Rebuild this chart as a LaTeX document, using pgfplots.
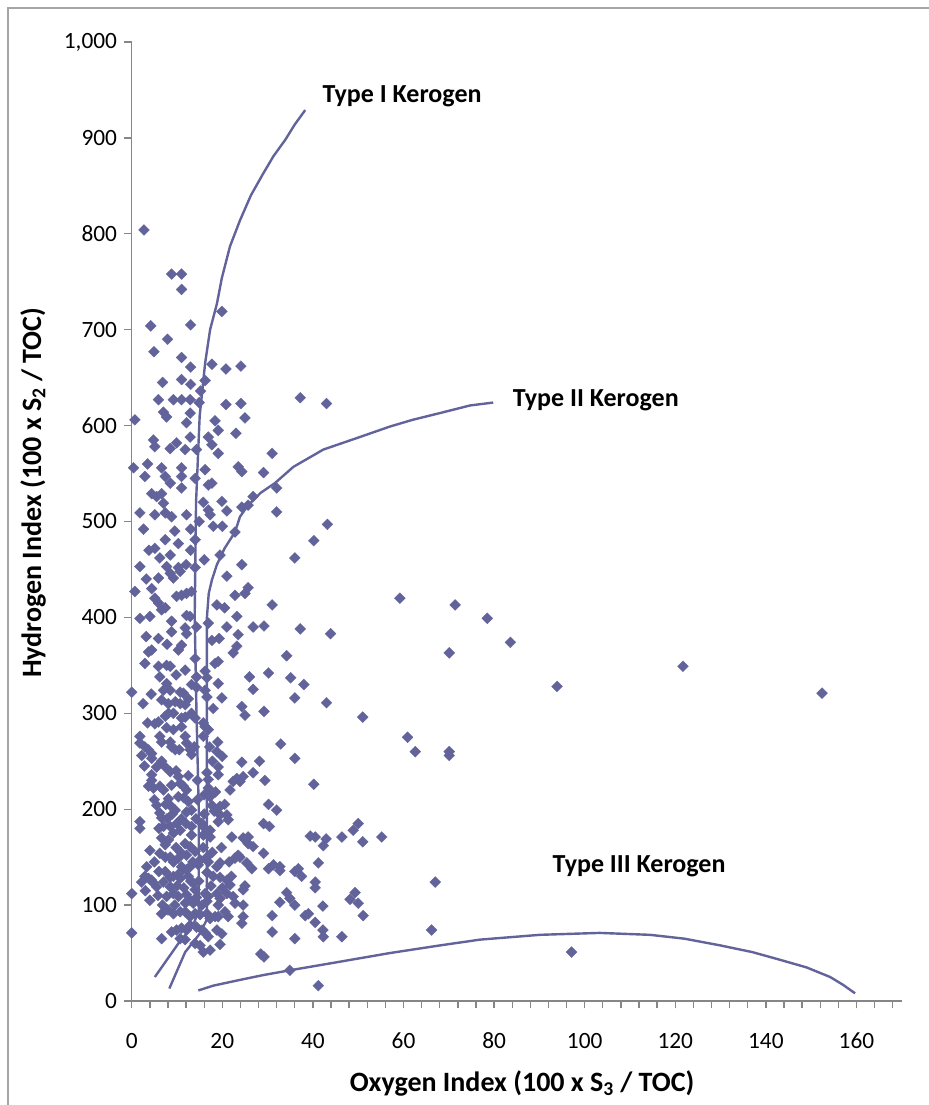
\documentclass[border=0pt]{standalone}
\usepackage{fontspec}
\setmainfont{Carlito}
\usepackage{pgfplots}
\pgfplotsset{compat=1.18}
\definecolor{pt}{RGB}{98,99,155}
\definecolor{ax}{RGB}{134,134,134}
\definecolor{fr}{RGB}{165,165,165}
\pgfplotstableread{
x y
2.7 804
8.8 758
11.0 758
11.0 742
4.2 704
13.0 705
7.9 690
19.9 719
4.9 677
11.0 671
13.0 661
17.7 664
20.8 659
24.1 662
6.8 645
11.0 648
13.0 643
16.2 647
15.2 636
5.9 627
9.2 627
11.0 627
12.9 627
14.9 624
20.8 622
24.1 623
25.0 608
7.0 614
7.7 609
12.9 613
12.1 603
0.7 606
18.4 605
19.1 595
23.0 592
4.8 585
5.1 578
8.5 576
9.9 582
12.9 588
11.8 575
14.3 575
16.9 588
17.7 580
19.1 571
0.4 556
2.9 547
6.6 556
7.4 547
11.0 556
11.0 547
16.2 554
23.5 557
24.3 552
37.2 629
43.0 623
31.0 571
29.1 551
26.8 526
32.0 535
24.3 515
32.0 510
43.2 497
40.2 480
36.0 462
24.3 455
25.7 431
25.0 425
59.2 420
31.0 413
26.8 390
29.2 391
37.2 388
43.9 383
34.2 360
26.0 338
30.2 342
35.1 337
26.8 325
38.0 330
36.0 316
43.0 311
24.3 307
25.0 298
29.2 302
51.0 296
60.9 275
62.6 260
32.9 268
36.0 253
24.3 249
28.2 250
26.8 238
24.6 234
23.9 229
29.4 230
40.2 226
30.2 205
32.0 199
29.1 185
30.4 182
39.4 172
40.5 171
42.9 169
42.3 162
46.4 171
50.0 185
48.9 178
51.0 166
55.2 171
67.0 124
24.6 170
25.7 171
26.8 161
23.9 150
29.1 154
25.4 144
26.5 138
30.2 138
31.3 142
32.7 140
32.7 136
36.0 135
36.8 138
37.5 130
40.5 124
40.5 118
41.2 144
25.0 120
24.6 116
34.2 113
34.9 107
36.0 100
32.7 103
49.3 113
48.2 106
50.0 102
42.2 99
38.3 89
39.0 91
40.5 82
31.0 89
51.1 89
24.6 100
24.6 88
24.3 81
31.0 72
36.0 65
42.2 74
42.3 67
46.4 67
66.2 74
28.5 49
29.2 46
34.9 32
41.2 16
71.4 413
70.1 363
70.1 260
70.1 256
78.5 399
83.6 374
93.9 328
121.7 349
152.4 321
97.1 51
17.7 540
16.9 538
4.4 529
5.5 526
6.6 529
7.0 519
11.0 535
19.9 521
25.7 517
1.8 509
5.1 507
7.4 509
8.8 505
12.1 507
16.9 512
17.3 507
21.0 511
14.9 500
18.0 495
22.8 489
2.6 492
5.1 472
7.4 481
8.5 465
6.2 462
10.3 477
14.0 481
13.0 470
1.8 453
7.7 453
8.5 446
9.2 441
10.7 448
10.3 452
14.0 452
21.0 443
5.9 441
4.4 430
0.7 427
9.9 422
11.0 423
12.1 425
13.2 427
5.1 420
5.9 415
6.6 408
7.4 410
22.8 423
18.8 413
1.8 399
4.0 401
12.1 402
12.9 401
16.9 394
8.8 396
23.2 401
11.8 389
12.1 383
23.5 382
21.0 390
11.0 371
10.3 366
5.9 378
4.4 366
3.7 364
17.7 376
23.2 370
22.4 363
14.0 357
2.9 352
5.9 349
7.7 350
8.5 349
18.4 352
19.1 354
16.2 344
16.6 337
6.2 338
14.3 338
0.0 322
7.7 331
7.0 324
8.5 324
10.7 322
11.4 321
19.1 331
14.3 327
16.2 324
16.6 317
19.9 316
6.6 314
8.1 310
9.6 312
10.7 310
11.8 309
7.4 297
8.1 300
9.2 300
5.1 289
5.9 291
11.0 295
11.8 296
13.2 300
14.0 295
15.8 290
16.2 286
16.9 283
7.7 285
9.2 283
11.0 286
1.8 276
6.2 276
1.8 269
2.9 265
3.7 262
4.4 258
6.6 270
8.8 265
9.6 262
11.8 276
12.1 269
12.9 262
13.2 257
18.8 260
15.8 276
2.2 256
4.4 253
5.5 244
6.6 250
7.4 244
8.5 239
4.4 236
3.7 224
4.8 222
4.4 230
7.0 220
6.2 224
10.3 234
10.7 227
11.4 224
12.1 220
8.8 225
16.6 238
16.9 231
16.9 222
19.1 244
19.1 236
22.4 229
23.2 232
21.7 220
8.1 211
8.5 204
9.6 199
10.3 213
12.5 208
13.2 199
12.1 197
5.5 204
6.2 196
6.6 191
17.3 213
17.7 204
19.5 203
19.5 194
21.0 194
21.3 189
1.8 187
1.8 180
7.0 182
8.5 182
9.9 185
10.7 178
9.2 175
13.2 182
13.2 173
15.5 185
16.2 180
15.8 173
17.3 178
17.3 171
19.1 187
22.1 171
25.7 164
6.6 170
8.1 168
7.4 163
4.0 157
11.8 164
12.9 161
8.5 150
9.2 145
10.3 149
7.4 150
6.2 154
12.1 152
14.0 156
15.1 147
14.7 142
16.6 150
16.9 145
19.5 144
18.8 140
22.8 149
23.5 152
21.7 121
2.9 130
3.7 128
4.4 126
4.8 123
5.5 119
2.2 124
7.4 135
7.0 124
8.5 129
9.2 130
10.7 134
10.7 128
11.0 140
12.1 137
12.9 140
12.5 130
13.6 123
14.0 116
16.6 134
18.0 130
19.5 129
21.0 126
0.0 112
4.0 105
8.5 119
9.2 112
10.3 109
7.7 109
12.1 111
12.9 105
13.6 102
14.3 108
11.8 102
16.2 112
16.9 109
16.6 104
15.5 100
18.8 112
19.5 107
19.1 100
21.0 112
22.4 109
22.8 102
6.6 91
9.2 91
10.7 93
11.8 93
12.9 88
14.0 91
15.1 90
16.6 91
17.3 86
18.4 88
19.1 88
20.6 93
21.3 88
0.0 71
6.6 65
8.8 72
9.9 74
11.0 76
12.1 74
12.9 79
14.3 77
15.5 74
16.2 71
16.9 67
10.7 65
11.8 64
18.8 74
19.9 70
19.5 59
14.0 60
15.1 58
15.8 51
17.3 53
3.3 140
5.0 145
6.0 135
9.8 160
10.8 155
13.5 145
15.8 160
17.8 155
19.8 160
21.5 145
3.0 115
5.8 110
6.8 100
8.0 95
9.5 100
10.0 120
11.5 118
13.0 125
14.8 125
17.5 120
20.0 118
22.0 130
6.0 180
7.8 190
9.0 195
11.0 190
12.0 185
14.2 190
16.0 195
18.2 198
20.5 205
5.0 210
7.5 205
11.5 212
14.5 210
16.0 215
18.5 218
2.8 245
9.8 240
12.5 235
14.5 230
17.8 250
20.0 255
3.5 290
8.5 270
10.5 262
13.8 265
17.2 265
19.0 270
2.5 310
4.3 320
12.5 315
13.2 330
18.0 305
9.8 340
11.8 345
3.2 380
7.8 372
8.8 385
14.3 390
19.3 378
20.5 410
3.2 440
12.0 455
16.0 460
19.5 465
3.8 470
9.5 490
13.0 492
15.8 520
20.0 495
3.5 560
8.5 540
14.0 545
}\samples
\begin{document}
\begin{tikzpicture}
\useasboundingbox (0,0) rectangle (696pt,828.75pt);
\draw[fr, line width=1pt] (6pt,-20pt) -- (6pt,822.75pt) -- (720pt,822.75pt);
\begin{axis}[
  at={(98.8pt,78pt)}, anchor=south west,
  scale only axis, width=577.5pt, height=719.25pt,
  xmin=0, xmax=170, ymin=0, ymax=1000,
  clip=false,
  axis x line*=bottom, axis y line*=left,
  axis line style={ax, line width=1pt, -},
  xtick={0,20,...,160}, minor xtick={4,8,...,168},
  ytick={0,100,...,1000},
  tick align=outside, major tick length=5.5pt, minor tick length=5.5pt,
  every tick/.style={ax, line width=1pt},
  every minor tick/.style={ax, line width=1pt},
  /pgf/number format/assume math mode=true,
  /pgf/number format/1000 sep={,},
  x tick label style={font=\fontsize{17.5}{19}\selectfont, yshift=-15pt},
  y tick label style={font=\fontsize{17.5}{19}\selectfont, xshift=-2pt},
  xlabel={Oxygen Index (100 x S\textsubscript{3} / TOC)},
  ylabel={Hydrogen Index (100 x S\textsubscript{2} / TOC)},
  xlabel style={font=\fontsize{21}{24}\selectfont\bfseries, at={(axis description cs:0.507,-0.0855)}, anchor=center},
  ylabel style={font=\fontsize{21}{24}\selectfont\bfseries, at={(axis description cs:-0.128,0.53)}, anchor=center},
]
\addplot[only marks, mark=square*, mark size=2.9pt, color=pt,
  mark options={rotate=45, fill=pt, draw=pt, line width=0.2pt}] table[x=x,y=y] {\samples};
\addplot[pt, line width=1.8pt, no marks] coordinates {
(5.1,25) (10.3,60) (13.5,78) (14.8,95) (14.8,200) (14.3,300) (13.9,400) (14.2,520) (15.0,610) (16.2,665) (17.3,700) (18.8,727) (19.9,754) (21.7,787) (23.9,814) (26.3,840) (28.8,861) (31.3,881) (33.9,898) (36,914) (38.3,929)};
\addplot[pt, line width=1.8pt, no marks] coordinates {
(8.3,13) (11.8,51) (15.0,70) (16.6,85) (16.6,250) (16.6,400) (17.0,425) (17.7,439) (18.8,455) (20.5,472) (22.8,489) (23.9,505) (25.7,517) (28.5,530) (31.6,540) (35.7,557) (42.3,575) (49.7,587) (57,599) (62,606) (68,613) (74.7,621) (79.8,624)};
\addplot[pt, line width=1.8pt, no marks] coordinates {
(14.7,11) (18,16) (23.9,22) (29,27) (34.9,32) (46,41) (57,50) (68.1,58) (76.9,64) (90.1,69) (103.3,71) (114.4,69) (122,65) (129.9,58) (137,51) (143.1,43) (149,35) (154.2,25) (157,17) (159.7,8)};
\node[anchor=west, font=\fontsize{19.5}{22}\selectfont\bfseries] at (axis cs:41.1,943) {Type I Kerogen};
\node[anchor=west, font=\fontsize{19.5}{22}\selectfont\bfseries] at (axis cs:83.1,626) {Type II Kerogen};
\node[anchor=west, font=\fontsize{19.5}{22}\selectfont\bfseries] at (axis cs:91.9,140) {Type III Kerogen};
\end{axis}
\end{tikzpicture}
\end{document}
